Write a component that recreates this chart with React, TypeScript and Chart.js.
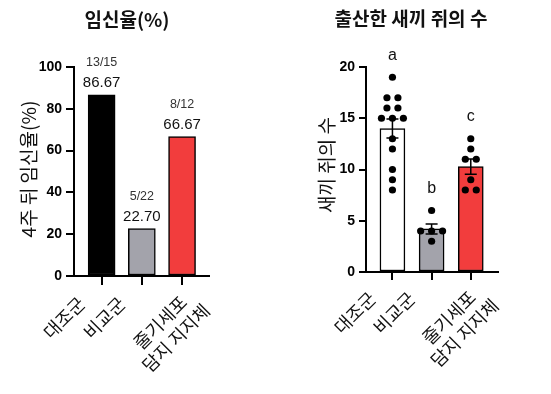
import React, { useEffect, useRef } from 'react';
import { Chart, registerables } from 'chart.js';

Chart.register(...registerables);

// ---------- data ----------
const groups = ['대조군', '비교군', '줄기세포\n담지 지지체'];
const pregnancyRate = [86.67, 22.7, 66.67];
const pregnancyLabels = ['86.67', '22.70', '66.67'];
const pregnancyFractions = ['13/15', '5/22', '8/12'];
const pregnancyTicks = [0, 20, 40, 60, 80, 100];
const pupsControl = [19, 17, 17, 16, 16, 15, 15, 15, 13, 12, 10, 9, 8];
const pupsNegative = [6, 4, 4, 4, 3];
const pupsScaffold = [13, 12, 11, 11, 9, 8, 8];
const pupTicks = [0, 5, 10, 15, 20];
const pupLetters = ['a', 'b', 'c'];

const leftTitle = '임신율(%)';
const leftAxisTitle = '4주 뒤 임신율(%)';
const rightTitle = '출산한 새끼 쥐의 수';
const rightAxisTitle = '새끼 쥐의 수';

// ---------- style ----------
const KR = '"Noto Sans CJK KR", "Noto Sans", sans-serif';
const NUM = '"Liberation Sans", Arial, sans-serif';
const leftColors = ['#000000', '#A3A3AB', '#F23D3D'];
const rightColors = ['#FFFFFF', '#A3A3AB', '#F23D3D'];

const mean = (a: number[]) => a.reduce((s, v) => s + v, 0) / a.length;
const sem = (a: number[]) => {
  const m = mean(a);
  const v = a.reduce((s, x) => s + (x - m) * (x - m), 0) / (a.length - 1);
  return Math.sqrt(v) / Math.sqrt(a.length);
};

function jitter(values: number[], group: number, step: number) {
  const counts: Record<string, number> = {};
  values.forEach((v) => (counts[v] = (counts[v] || 0) + 1));
  const seen: Record<string, number> = {};
  return values.map((v) => {
    const k = counts[v];
    const j = seen[v] || 0;
    seen[v] = j + 1;
    return { x: group + (j - (k - 1) / 2) * step, y: v };
  });
}

function yAxis(max: number, ticks: number[], width: number, tickLength: number) {
  return {
    type: 'linear',
    min: 0,
    max,
    afterBuildTicks: (s: any) => {
      s.ticks = ticks.map((v) => ({ value: v }));
    },
    ticks: {
      color: '#000',
      font: { family: NUM, size: 14, weight: 'bold' },
      padding: 4,
    },
    grid: {
      display: true,
      drawOnChartArea: false,
      drawTicks: true,
      tickLength,
      color: '#000',
      lineWidth: 2,
    },
    border: { display: true, color: '#000', width: 2 },
    afterFit: (s: any) => {
      s.width = width;
    },
  };
}

function xAxis(min: number, max: number, tickLength: number) {
  return {
    type: 'linear',
    min,
    max,
    offset: false,
    afterBuildTicks: (s: any) => {
      s.ticks = groups.map((_, i) => ({ value: i }));
    },
    ticks: { display: false },
    grid: {
      display: true,
      offset: false,
      drawOnChartArea: false,
      drawTicks: true,
      tickLength,
      color: '#000',
      lineWidth: 2,
    },
    border: { display: true, color: '#000', width: 2 },
    afterFit: (s: any) => {
      s.height = 20;
    },
  };
}

function drawXLabels(chart: any, tickLength: number) {
  const ctx = chart.ctx;
  const xs = chart.scales.x;
  ctx.save();
  ctx.fillStyle = '#111';
  ctx.font = `18px ${KR}`;
  ctx.textAlign = 'right';
  ctx.textBaseline = 'middle';
  const lh = 22;
  groups.forEach((g, i) => {
    const lines = g.split('\n');
    const n = lines.length;
    const widths = lines.map((l) => ctx.measureText(l).width);
    const W = Math.max(...widths);
    const px = xs.getPixelForValue(i);
    const py = xs.top + tickLength;
    const aEnd = -25 + (n - 1) * 26.5;
    ctx.save();
    ctx.translate(px, py);
    ctx.rotate(-Math.PI / 4);
    lines.forEach((l, j) => {
      const a = aEnd - (W - widths[j]) / 2;
      const b = -3.4 + (n - 1) * 14.4 + j * lh;
      ctx.fillText(l, a, b);
    });
    ctx.restore();
  });
  ctx.restore();
}

function drawTitles(chart: any, title: string, tx: number, ty: number, axisTitle: string, ax: number, ay: number) {
  const ctx = chart.ctx;
  ctx.save();
  ctx.fillStyle = '#111';
  ctx.textAlign = 'center';
  ctx.textBaseline = 'middle';
  ctx.font = `bold 19px ${KR}`;
  ctx.fillText(title, tx, ty);
  ctx.font = `19px ${KR}`;
  ctx.translate(ax, ay);
  ctx.rotate(-Math.PI / 2);
  ctx.fillText(axisTitle, 0, 0);
  ctx.restore();
}

function LeftChart() {
  const ref = useRef<HTMLCanvasElement>(null);
  useEffect(() => {
    if (!ref.current) return;
    const overlay = {
      id: 'leftOverlay',
      afterDraw(chart: any) {
        const ctx = chart.ctx;
        const xs = chart.scales.x;
        const ys = chart.scales.y;
        ctx.save();
        ctx.textAlign = 'center';
        ctx.textBaseline = 'middle';
        pregnancyRate.forEach((v, i) => {
          const x = xs.getPixelForValue(i);
          const y = ys.getPixelForValue(v);
          ctx.fillStyle = '#111';
          ctx.font = `15px ${NUM}`;
          ctx.fillText(pregnancyLabels[i], x, y - 12);
          ctx.fillStyle = '#333';
          ctx.font = `12.5px ${NUM}`;
          ctx.fillText(pregnancyFractions[i], x, y - 32);
        });
        ctx.restore();
        drawXLabels(chart, 9);
        drawTitles(chart, leftTitle, 127, 20, leftAxisTitle, 28.5, 169);
      },
    };
    const chart = new Chart(ref.current, {
      type: 'bar',
      data: {
        datasets: [
          {
            type: 'bar',
            data: pregnancyRate.map((y, i) => ({ x: i, y })),
            backgroundColor: leftColors,
            borderColor: '#000',
            borderWidth: 1.5,
            borderSkipped: false,
            barThickness: 27,
          } as any,
        ],
      },
      options: {
        animation: false,
        responsive: false,
        devicePixelRatio: 1,
        layout: { padding: { top: 67, left: 0, right: 66, bottom: 98 } },
        plugins: { legend: { display: false }, tooltip: { enabled: false }, title: { display: false } },
        scales: {
          x: xAxis(-0.687, 2.67, 9) as any,
          y: yAxis(100, pregnancyTicks, 74, 8) as any,
        },
      },
      plugins: [overlay],
    });
    return () => chart.destroy();
  }, []);
  return <canvas ref={ref} width={275} height={394} style={{ position: 'absolute', left: 0, top: 0 }} />;
}

function RightChart() {
  const ref = useRef<HTMLCanvasElement>(null);
  useEffect(() => {
    if (!ref.current) return;
    const sets = [pupsControl, pupsNegative, pupsScaffold];
    const means = sets.map(mean);
    const sems = sets.map(sem);
    const step = 0.28;
    const dots = sets.flatMap((s, i) => jitter(s, i, step));
    const overlay = {
      id: 'rightOverlay',
      afterDatasetDraw(chart: any, args: any) {
        if (args.index !== 1) return;
        const ctx = chart.ctx;
        const xs = chart.scales.x;
        const ys = chart.scales.y;
        ctx.save();
        ctx.strokeStyle = '#000';
        ctx.lineWidth = 1.5;
        means.forEach((m, i) => {
          const x = xs.getPixelForValue(i);
          const y1 = ys.getPixelForValue(m - sems[i]);
          const y2 = ys.getPixelForValue(m + sems[i]);
          ctx.beginPath();
          ctx.moveTo(x, y1);
          ctx.lineTo(x, y2);
          ctx.moveTo(x - 6, y1);
          ctx.lineTo(x + 6, y1);
          ctx.moveTo(x - 6, y2);
          ctx.lineTo(x + 6, y2);
          ctx.stroke();
        });
        ctx.restore();
      },
      afterDraw(chart: any) {
        const ctx = chart.ctx;
        const xs = chart.scales.x;
        const ys = chart.scales.y;
        ctx.save();
        ctx.textAlign = 'center';
        ctx.textBaseline = 'middle';
        ctx.fillStyle = '#111';
        ctx.font = `16px ${NUM}`;
        sets.forEach((s, i) => {
          const x = xs.getPixelForValue(i);
          const y = ys.getPixelForValue(Math.max(...s));
          ctx.fillText(pupLetters[i], x, y - 22);
        });
        ctx.restore();
        drawXLabels(chart, 8);
        drawTitles(chart, rightTitle, 136, 19, rightAxisTitle, 52, 165);
      },
    };
    const chart = new Chart(ref.current, {
      type: 'bar',
      data: {
        datasets: [
          {
            type: 'scatter',
            data: dots,
            backgroundColor: '#000',
            borderColor: '#000',
            borderWidth: 0,
            pointRadius: 3.6,
            showLine: false,
            order: 0,
          } as any,
          {
            type: 'bar',
            data: means.map((y, i) => ({ x: i, y })),
            backgroundColor: rightColors,
            borderColor: '#000',
            borderWidth: 1.5,
            borderSkipped: false,
            barThickness: 25,
            order: 1,
          } as any,
        ],
      },
      options: {
        animation: false,
        responsive: false,
        devicePixelRatio: 1,
        layout: { padding: { top: 67, left: 0, right: 53, bottom: 102 } },
        plugins: { legend: { display: false }, tooltip: { enabled: false }, title: { display: false } },
        scales: {
          x: xAxis(-0.675, 2.695, 8) as any,
          y: yAxis(20, pupTicks, 91, 7) as any,
        },
      },
      plugins: [overlay],
    });
    return () => chart.destroy();
  }, []);
  return <canvas ref={ref} width={276} height={394} style={{ position: 'absolute', left: 275, top: 0 }} />;
}

export default function App() {
  return (
    <div style={{ position: 'fixed', left: 0, top: 0, width: 551, height: 394, background: '#fff', overflow: 'hidden' }}>
      <LeftChart />
      <RightChart />
    </div>
  );
}
